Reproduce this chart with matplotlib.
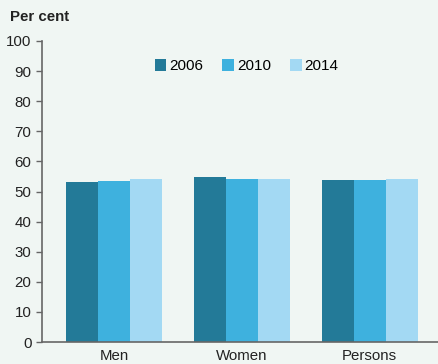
import numpy as np
import matplotlib.pyplot as plt

plt.rcParams['font.family'] = ['Liberation Sans', 'DejaVu Sans']

# Data
categories = ['Men', 'Women', 'Persons']
years = ['2006', '2010', '2014']
values_2006 = [53.1, 54.8, 53.9]
values_2010 = [53.6, 54.0, 53.9]
values_2014 = [54.3, 54.3, 54.3]
colors = ['#237A98', '#3EB1DE', '#A3D9F3']

bg = '#F0F6F3'
fig = plt.figure(figsize=(4.38, 3.64), dpi=100, facecolor=bg)
ax = fig.add_axes([42 / 438, 22 / 364, 396 / 438, 301 / 364])
ax.set_facecolor(bg)

x = np.arange(len(categories))
width = 0.25
for i, (vals, yr) in enumerate(zip([values_2006, values_2010, values_2014], years)):
    ax.bar(x + (i - 1) * width, vals, width, color=colors[i], label=yr)

ax.set_xlim(-0.563, 2.534)
ax.set_ylim(0, 100)
ax.set_yticks(range(0, 101, 10))
ax.set_xticks(x)
ax.set_xticklabels(categories)
ax.tick_params(axis='y', labelsize=10.8, colors='#666666', labelcolor='#222222', length=4, width=1)
ax.tick_params(axis='x', labelsize=10.8, length=0, pad=5, labelcolor='#222222')

for side in ['top', 'right']:
    ax.spines[side].set_visible(False)
for side in ['left', 'bottom']:
    ax.spines[side].set_color('#666666')
    ax.spines[side].set_linewidth(1.2)

fig.text(10 / 438, 1 - 17 / 364, 'Per cent', fontsize=10.8, fontweight='bold',
         va='center', ha='left', color='#222222')

ax.legend(loc='upper center', bbox_to_anchor=(0.517, 0.985), ncol=3, frameon=False,
          fontsize=11, handlelength=0.75, handleheight=0.75, handletextpad=0.2,
          columnspacing=1.25)

plt.savefig('out.png', dpi=100, facecolor=bg)
plt.close()
